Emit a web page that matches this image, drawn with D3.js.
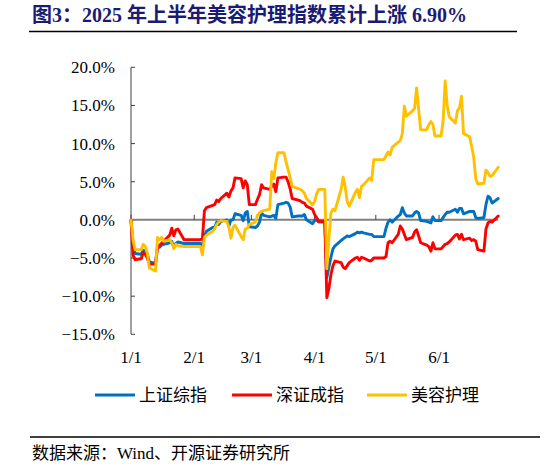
<!DOCTYPE html>
<html>
<head>
<meta charset="utf-8">
<script src="https://cdn.jsdelivr.net/npm/d3@7"></script>
<style>
body{margin:0;background:#fff;}
svg{display:block;}
</style>
</head>
<body>
<svg id="chart" width="546" height="468"></svg>
<script>
// ---------------- data (cumulative % change since 2025-01-01) ----------------
var dates = ["01-01","01-02","01-03","01-06","01-07","01-08","01-09","01-10","01-13","01-14",
	"01-15","01-16","01-17","01-20","01-21","01-22","01-23","01-24","01-27","02-04",
	"02-05","02-06","02-07","02-10","02-11","02-12","02-13","02-14","02-17","02-18",
	"02-19","02-20","02-21","02-24","02-25","02-26","02-27","02-28","03-03","03-04",
	"03-05","03-06","03-07","03-10","03-11","03-12","03-13","03-14","03-17","03-18",
	"03-19","03-20","03-21","03-24","03-25","03-26","03-27","03-28","03-31","04-01",
	"04-02","04-03","04-06","04-07","04-08","04-09","04-10","04-11","04-14","04-15",
	"04-16","04-17","04-18","04-21","04-22","04-23","04-24","04-25","04-28","04-29",
	"04-30","05-05","05-06","05-07","05-08","05-09","05-12","05-13","05-14","05-15",
	"05-16","05-19","05-20","05-21","05-22","05-23","05-26","05-27","05-28","05-29",
	"05-30","06-02","06-03","06-04","06-05","06-06","06-09","06-10","06-11","06-12",
	"06-13","06-16","06-17","06-18","06-19","06-20","06-23","06-24","06-25","06-26",
	"06-27","06-30"];

// 上证综指
var sseValues = [0,-3.0,-4.4,-4.5,-4.0,-4.1,-4.5,-5.5,-5.7,-3.4,
	-3.6,-3.3,-3.2,-3.0,-2.8,-3.6,-3.1,-2.9,-3.1,-3.1,
	-3.4,-2.1,-1.5,-1.0,-1.0,-0.3,-0.6,-0.2,0.0,-0.8,
	0.0,0.0,0.8,0.6,-0.1,0.9,1.1,-0.9,-1.0,-0.8,
	-0.3,0.9,0.6,0.4,0.5,0.6,0.2,2.0,2.2,2.3,
	2.2,1.7,0.4,0.5,0.5,0.5,0.7,0.0,-0.5,-0.1,
	0.0,-0.3,-0.3,-7.6,-6.2,-4.9,-3.8,-3.4,-2.7,-2.5,
	-2.3,-2.1,-2.2,-1.8,-1.6,-1.7,-1.6,-1.7,-1.9,-1.9,
	-2.2,-2.2,-1.1,-0.3,0.0,-0.3,0.5,0.7,1.6,0.9,
	0.5,0.5,0.9,1.1,0.9,-0.1,-0.2,-0.3,-0.4,0.4,
	-0.1,-0.1,0.3,0.7,1.0,1.0,1.4,1.0,1.5,1.5,
	0.8,1.1,1.1,1.1,0.3,0.2,0.3,2.0,3.1,2.9,
	2.2,2.8];

// 深证成指
var szseValues = [0,-4.6,-5.2,-5.1,-4.3,-4.5,-5.0,-5.8,-5.8,-3.7,
	-3.3,-3.1,-2.8,-2.0,-1.1,-2.1,-1.3,-1.2,-2.6,-2.6,
	-2.5,1.2,1.6,1.9,2.0,2.6,2.4,2.8,3.5,3.0,
	3.8,4.2,5.5,5.4,4.2,5.1,4.6,2.0,2.0,2.7,
	3.3,4.6,4.2,4.0,4.4,4.7,3.7,5.5,5.6,5.6,
	5.0,4.1,2.8,2.6,2.5,2.3,2.2,1.8,1.4,0.7,
	0.3,-0.2,-0.2,-10.2,-9.0,-7.2,-6.0,-5.4,-5.6,-6.2,
	-6.4,-6.0,-5.6,-5.0,-4.9,-5.3,-4.9,-5.0,-5.4,-5.3,
	-5.0,-5.0,-4.8,-3.0,-2.8,-3.0,-1.9,-0.8,-1.2,-1.9,
	-2.6,-2.3,-1.6,-1.3,-2.1,-3.0,-3.3,-3.5,-4.1,-3.0,
	-3.8,-3.8,-3.5,-3.2,-3.1,-2.9,-2.0,-1.9,-2.5,-1.9,
	-2.6,-2.4,-2.7,-2.6,-2.8,-3.9,-4.1,-1.2,-0.4,-0.2,
	-0.3,0.5];

// 美容护理
var beautyValues = [0,-2.6,-3.9,-3.9,-3.2,-3.5,-4.4,-6.3,-6.7,-2.3,
	-2.6,-2.3,-2.8,-2.6,-3.0,-3.8,-3.2,-3.4,-3.5,-3.5,
	-4.6,-2.3,-2.0,-1.5,-1.2,-0.6,-0.3,-0.1,-0.2,-1.0,
	-2.4,-1.0,-0.7,-2.2,-2.6,-1.2,-1.1,-0.6,-0.3,0.6,
	0.9,1.1,1.2,1.4,6.3,5.4,7.5,8.8,8.8,7.6,
	6.6,5.6,4.4,4.1,4.0,3.8,3.5,2.8,2.0,2.4,
	3.4,4.0,4.0,-6.4,-2.5,0.9,1.4,1.2,4.0,5.6,
	4.3,2.4,1.8,3.6,4.0,2.9,4.4,4.6,5.5,5.2,
	7.9,7.9,8.4,8.9,8.5,9.5,10.2,10.4,11.3,14.9,
	13.6,14.3,14.6,17.3,14.5,11.8,11.8,12.5,12.9,12.5,
	11.0,11.0,13.0,18.2,15.0,13.5,12.7,14.3,14.7,16.2,
	11.3,10.9,9.6,8.2,5.4,4.7,4.8,6.5,6.2,5.7,
	5.8,6.9];

var seriesNames = ["上证综指","深证成指","美容护理"];
var seriesColors = ["#0070C0","#FF0000","#FFC000"];
var yTicks = [20,15,10,5,0,-5,-10,-15];
var monthTicks = ["01-01","02-01","03-01","04-01","05-01","06-01"];

var TITLE = "图3：2025 年上半年美容护理指数累计上涨 6.90%";
var SOURCE = "数据来源：Wind、开源证券研究所";

// ---------------- layout ----------------
var PLOT_LEFT = 131, PLOT_RIGHT = 498.2;
var PLOT_TOP = 67.3, PLOT_BOTTOM = 334.3;
var LATIN = "'Liberation Serif','Times New Roman',serif";
var CJK = "'Liberation Serif','Noto Sans CJK SC',sans-serif";

var svg = d3.select("#chart");
var parse = d3.timeParse("%Y-%m-%d");
function toDate(s){ return parse("2025-"+s); }

var x = d3.scaleTime()
	.domain([toDate("01-01"), toDate("06-30")])
	.range([PLOT_LEFT, PLOT_RIGHT]);
var y = d3.scaleLinear()
	.domain([-15, 20])
	.range([PLOT_BOTTOM, PLOT_TOP]);

// ---------------- title + rules ----------------
svg.append("text")
	.text(TITLE)
	.attr("x",32)
	.attr("y",22)
	.style("font-family",CJK)
	.style("font-weight","bold")
	.style("font-size","20px")
	.style("fill","#1b1b72");

svg.append("line")
	.attr("x1",29).attr("x2",517)
	.attr("y1",31.5).attr("y2",31.5)
	.style("stroke","#000")
	.style("stroke-width",1.3);

svg.append("line")
	.attr("x1",30).attr("x2",540)
	.attr("y1",437).attr("y2",437)
	.style("stroke","#000")
	.style("stroke-width",1.3);

svg.append("text")
	.text(SOURCE)
	.attr("x",32)
	.attr("y",459)
	.style("font-family",CJK)
	.style("font-size","17px")
	.style("fill","#000");

// ---------------- y axis ----------------
var yAxis = svg.append("g").attr("id","yAxis");
yAxis.append("line")
	.attr("x1",PLOT_LEFT).attr("x2",PLOT_LEFT)
	.attr("y1",y(20)).attr("y2",y(-15))
	.style("stroke","#404040")
	.style("stroke-width",1);

yAxis.selectAll(".ytick")
	.data(yTicks)
	.enter()
	.append("line")
	.attr("class","ytick")
	.attr("x1",PLOT_LEFT).attr("x2",PLOT_LEFT+4)
	.attr("y1",function(d){return y(d);})
	.attr("y2",function(d){return y(d);})
	.style("stroke","#404040")
	.style("stroke-width",1);

yAxis.selectAll(".ylabel")
	.data(yTicks)
	.enter()
	.append("text")
	.attr("class","ylabel")
	.text(function(d){return d3.format(".1f")(d)+"%";})
	.attr("x",115)
	.attr("y",function(d){return y(d);})
	.attr("dy","0.35em")
	.style("text-anchor","end")
	.style("font-family",LATIN)
	.style("font-size","17px")
	.style("fill","#000");

// ---------------- zero line + month ticks ----------------
var xAxis = svg.append("g").attr("id","xAxis");
xAxis.append("line")
	.attr("x1",PLOT_LEFT).attr("x2",PLOT_RIGHT)
	.attr("y1",y(0)).attr("y2",y(0))
	.style("stroke","#808080")
	.style("stroke-width",2);

xAxis.selectAll(".xtick")
	.data(monthTicks)
	.enter()
	.append("line")
	.attr("class","xtick")
	.attr("x1",function(d){return x(toDate(d));})
	.attr("x2",function(d){return x(toDate(d));})
	.attr("y1",y(0)).attr("y2",y(0)-5)
	.style("stroke","#404040")
	.style("stroke-width",1);

xAxis.selectAll(".xlabel")
	.data(monthTicks)
	.enter()
	.append("text")
	.attr("class","xlabel")
	.text(function(d){return d3.timeFormat("%-m/%-d")(toDate(d));})
	.attr("x",function(d){return x(toDate(d));})
	.attr("y",363)
	.style("text-anchor","middle")
	.style("font-family",LATIN)
	.style("font-size","17px")
	.style("fill","#000");

// ---------------- lines ----------------
var allValues = [sseValues, szseValues, beautyValues];
var line = d3.line()
	.x(function(d){return x(d.date);})
	.y(function(d){return y(d.value);});

var lines = svg.append("g").attr("id","lines");
allValues.forEach(function(vals,i){
	var pts = dates.map(function(s,k){ return {date:toDate(s), value:vals[k]}; });
	lines.append("path")
		.datum(pts)
		.attr("d",line)
		.style("fill","none")
		.style("stroke",seriesColors[i])
		.style("stroke-width",2.9)
		.style("stroke-linejoin","round")
		.style("stroke-linecap","round");
});

// ---------------- legend ----------------
var legendX = [95,232,367];
var legend = svg.append("g").attr("id","legend");
seriesNames.forEach(function(name,i){
	legend.append("line")
		.attr("x1",legendX[i]).attr("x2",legendX[i]+40)
		.attr("y1",395).attr("y2",395)
		.style("stroke",seriesColors[i])
		.style("stroke-width",3);
	legend.append("text")
		.text(name)
		.attr("x",legendX[i]+44)
		.attr("y",401)
		.style("font-family",CJK)
		.style("font-size","17px")
		.style("fill","#000");
});
</script>
</body>
</html>
